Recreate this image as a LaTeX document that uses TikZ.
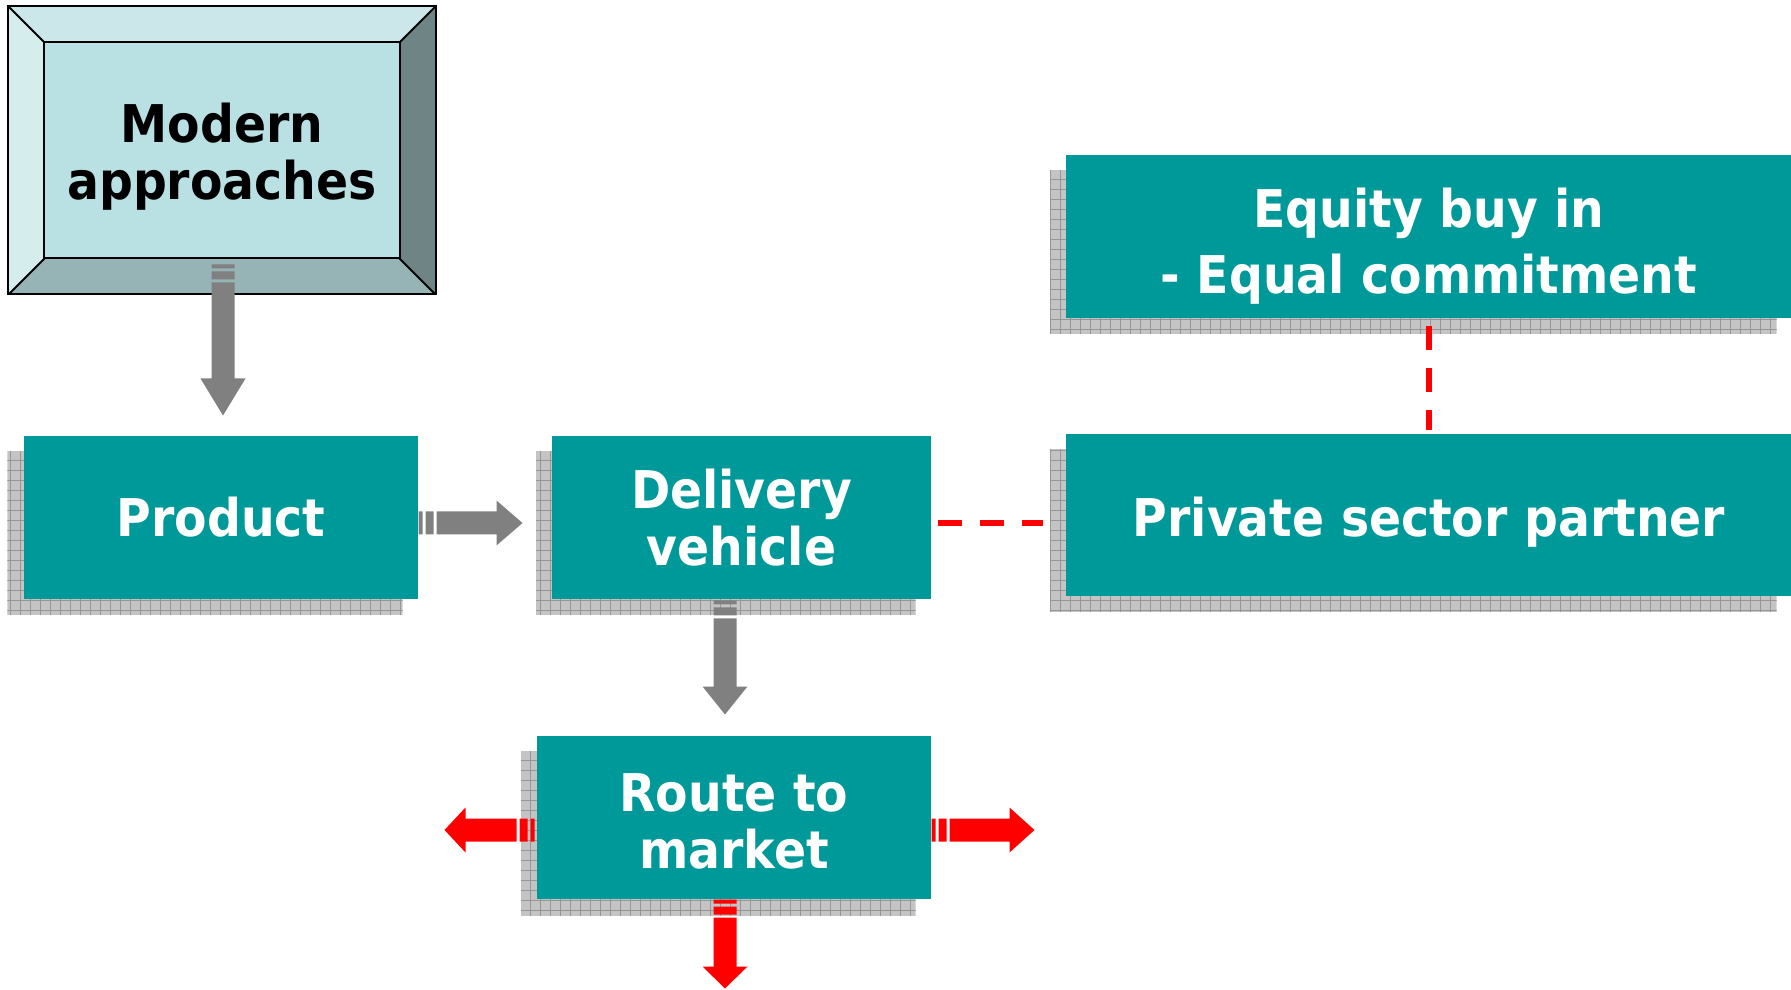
\documentclass[tikz,border=0pt]{standalone}
\usepackage{fontspec}
\setmainfont{DejaVu Sans}[FakeStretch=0.91]
\usetikzlibrary{calc}
\usetikzlibrary{backgrounds}

\definecolor{boxteal}{RGB}{0,153,153}
\definecolor{bevelin}{RGB}{185,224,227}
\definecolor{beveltop}{RGB}{203,231,233}
\definecolor{bevelleft}{RGB}{214,237,238}
\definecolor{bevelright}{RGB}{111,133,133}
\definecolor{bevelbottom}{RGB}{150,179,181}
\definecolor{arrowgray}{RGB}{128,128,128}
\definecolor{shadowgray}{RGB}{196,196,196}
\definecolor{gridgray}{RGB}{150,150,150}

\tikzset{
  tealbox/.style={fill=boxteal, text=white, align=center, inner sep=0pt,
    font=\bfseries\fontsize{20.8}{22.8}\selectfont},
  reddash/.style={draw=red, line width=2.4pt, dash pattern=on 9.6pt off 7.2pt},
  shadowgrid/.style={draw=gridgray, line width=0.4pt},
}

% invisible strut that pushes a node's text down
\newcommand{\pushdown}[1]{\rule{0pt}{#1}}

% block arrow with two stripes at its base: colour, start, angle, length, head length
\newcommand{\blockarrow}[5]{%
  \begin{scope}[shift={(#2)},rotate=#3]
    \fill[#1] (0,-11.5) rectangle (4,11.5) (7,-11.5) rectangle (15,11.5);
    \fill[#1] (18,-11.5) -- ({#4-#5},-11.5) -- ({#4-#5},-22.5) -- (#4,0)
      -- ({#4-#5},22.5) -- ({#4-#5},11.5) -- (18,11.5) -- cycle;
  \end{scope}}

\begin{document}
\begin{tikzpicture}[x=0.4pt,y=-0.4pt]
        \useasboundingbox (0,0) rectangle (1791,990);

        %Shape: Bevel
        \node[align=center, inner sep=0pt, minimum width=170.4pt, minimum height=114.8pt,
          font=\bfseries\fontsize{20.8}{22.8}\selectfont] (modern) at (222,150.5) {\pushdown{20.4pt}Modern\\approaches};
        \coordinate (mnw) at ($(modern.north west)+(36,36)$);
        \coordinate (mne) at ($(modern.north east)+(-36,36)$);
        \coordinate (mse) at ($(modern.south east)+(-36,-36)$);
        \coordinate (msw) at ($(modern.south west)+(36,-36)$);

        %Shape: Rectangles
        \node[tealbox, minimum width=157.6pt, minimum height=65.2pt] (product) at (221,517.5) {Product};
        \node[tealbox, minimum width=151.6pt, minimum height=65.2pt] (delivery) at (741.5,517.5) {Delivery\\vehicle};
        \node[tealbox, minimum width=157.6pt, minimum height=65.2pt] (route) at (734,817.5) {\pushdown{18pt}Route to\\market};
        \node[tealbox, minimum width=290.4pt, minimum height=64.8pt] (partner) at (1429,515) {\pushdown{21.2pt}Private sector partner};
        \node[tealbox, minimum width=290.4pt, minimum height=65.2pt,
          font=\bfseries\fontsize{20.8}{26.4}\selectfont] (equity) at (1429,236.5) {\pushdown{23.6pt}Equity buy in\\- Equal commitment};

        \begin{pgfonlayer}{background}
          %Shadows
          \foreach \n in {product,delivery,route,partner,equity}{
            \begin{scope}
              \clip ($(\n.south west)+(-16,16)$) rectangle ($(\n.north east)+(-16,16)$);
              \fill[shadowgray] ($(\n.south west)+(-16,16)$) rectangle ($(\n.north east)+(-16,16)$);
              \draw[shadowgrid] ($(\n.south west)+(-16,16)$) grid[step=4pt] ($(\n.north east)+(-16,16)$);
            \end{scope}}
          %Bevel faces
          \fill[beveltop] (modern.north west) -- (modern.north east) -- (mne) -- (mnw) -- cycle;
          \fill[bevelright] (modern.north east) -- (modern.south east) -- (mse) -- (mne) -- cycle;
          \fill[bevelbottom] (modern.south east) -- (modern.south west) -- (msw) -- (mse) -- cycle;
          \fill[bevelleft] (modern.south west) -- (modern.north west) -- (mnw) -- (msw) -- cycle;
          \fill[bevelin] (mnw) rectangle (mse);
          \draw[line width=0.8pt] (modern.north west) rectangle (modern.south east);
          \draw[line width=0.8pt] (mnw) rectangle (mse);
          \draw[line width=0.8pt] (modern.north west) -- (mnw) (modern.north east) -- (mne)
            (modern.south east) -- (mse) (modern.south west) -- (msw);
        \end{pgfonlayer}

        %Block Arrows
        \blockarrow{arrowgray}{$(modern.south)+(1,-30)$}{-90}{151}{37}
        \blockarrow{arrowgray}{$(product.east)+(0,5.5)$}{0}{104}{26}
        \blockarrow{arrowgray}{$(delivery.south)+(-16.5,1)$}{-90}{114}{28}
        \blockarrow{red}{$(route.west)+(-2,12.5)$}{180}{90}{21}
        \blockarrow{red}{$(route.east)+(0,12.5)$}{0}{103}{25}
        \blockarrow{red}{$(route.south)+(-9,0)$}{-90}{89}{22}

        %Dashed Lines
        \draw[reddash] ($(delivery.east)+(6,6)$) -- ($(delivery.east -| partner.west)+(-23,6)$);
        \draw[reddash] ($(equity.south)+(0,8)$) -- ($(partner.north)+(0,-3)$);
\end{tikzpicture}
\end{document}
